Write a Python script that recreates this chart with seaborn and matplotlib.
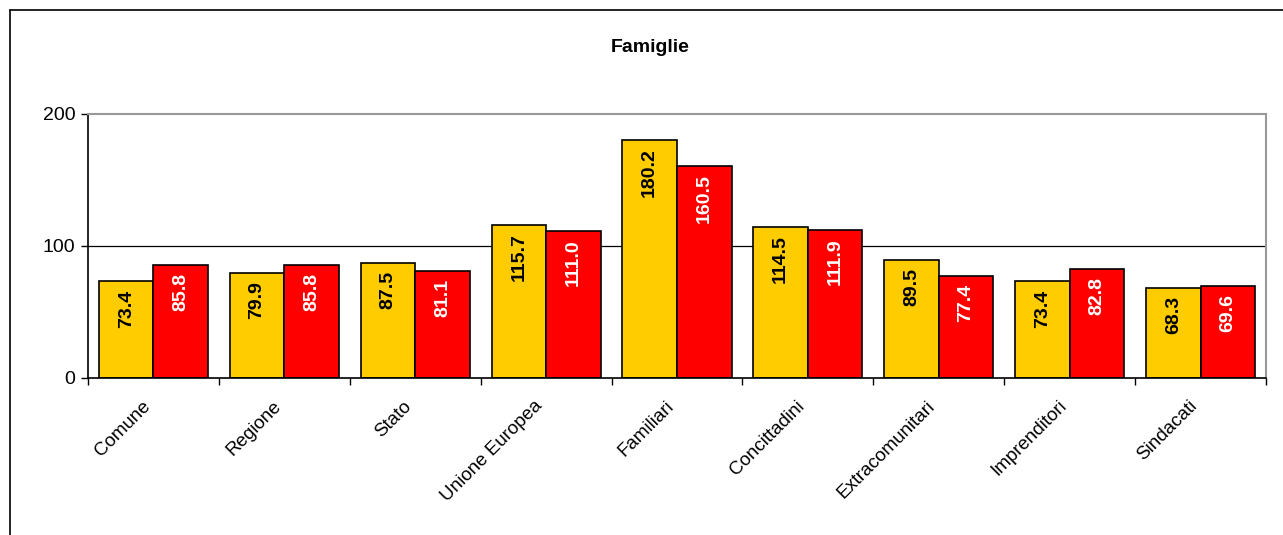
import numpy as np
import pandas as pd
import matplotlib
matplotlib.use('Agg')
import matplotlib.pyplot as plt
import matplotlib.transforms as mtransforms
from matplotlib.lines import Line2D
import seaborn as sns

sns.set_style('white')
plt.rcParams['font.family'] = ['Liberation Sans', 'DejaVu Sans']
plt.rcParams['text.color'] = 'black'
plt.rcParams['xtick.color'] = 'black'
plt.rcParams['ytick.color'] = 'black'

categories = ['Comune', 'Regione', 'Stato', 'Unione Europea', 'Familiari',
              'Concittadini', 'Extracomunitari', 'Imprenditori', 'Sindacati']
serie_a = [73.4, 79.9, 87.5, 115.7, 180.2, 114.5, 89.5, 73.4, 68.3]
serie_b = [85.8, 85.8, 81.1, 111.0, 160.5, 111.9, 77.4, 82.8, 69.6]
series = ['A', 'B']
colors = ['#FFCC00', '#FF0000']

df = pd.DataFrame({
    'categoria': categories * 2,
    'valore': serie_a + serie_b,
    'serie': [series[0]] * len(categories) + [series[1]] * len(categories),
})

W, H = 1283, 535
fig = plt.figure(figsize=(W / 100, H / 100), dpi=100)
ax = fig.add_axes([88 / W, 1 - 378 / H, (1266 - 88) / W, (378 - 114) / H])

sns.barplot(data=df, x='categoria', y='valore', hue='serie', order=categories,
            hue_order=series, palette=colors, width=0.833, gap=0,
            edgecolor='black', linewidth=1.2, saturation=1, legend=False, ax=ax)

# value labels inside the bar top, rotated
for cont, tcol in zip(ax.containers, ['black', 'white']):
    for p in cont:
        h = p.get_height()
        ax.annotate(f'{h:.1f}', (p.get_x() + p.get_width() / 2, h),
                    xytext=(0, -6), textcoords='offset points',
                    rotation=90, ha='center', va='top', color=tcol,
                    fontsize=14, fontweight='bold')

ax.axhline(100, color='black', lw=0.9, zorder=0)
ax.set_ylim(0, 200)
ax.set_xlim(-0.5, len(categories) - 0.5)
ax.set_yticks([0, 100, 200])
ax.set_yticklabels(['0', '100', '200'], fontsize=14)
ax.set_xticks(range(len(categories)))
ax.set_xticklabels(categories, rotation=45, ha='right', rotation_mode='anchor',
                   fontsize=13.5)
ax.set_xticks(np.arange(-0.5, len(categories)), minor=True)
ax.tick_params(axis='x', which='major', length=0, pad=14)
ax.tick_params(axis='x', which='minor', length=5, width=1, color='black',
               direction='out', bottom=True)
ax.tick_params(axis='y', length=5, width=1, color='black', direction='out',
               left=True, pad=4)
ax.set_xlabel('')
ax.set_ylabel('')

# Excel puts the rotated labels a little left of the group centre
shift = mtransforms.ScaledTranslation(-12 / 100, 0, fig.dpi_scale_trans)
for lab in ax.get_xticklabels():
    lab.set_transform(lab.get_transform() + shift)

for s in ['left', 'bottom']:
    ax.spines[s].set_color('black')
    ax.spines[s].set_linewidth(1.2)
for s in ['top', 'right']:
    ax.spines[s].set_color('#999999')
    ax.spines[s].set_linewidth(1.5)

fig.text(650 / W, 1 - 48 / H, 'Famiglie', ha='center', va='center',
         fontsize=14, fontweight='bold')

# outer chart frame
fig.add_artist(Line2D([10 / W, 10 / W], [0, 1 - 10 / H], color='black', lw=1.2,
                      transform=fig.transFigure))
fig.add_artist(Line2D([10 / W, 1], [1 - 10 / H, 1 - 10 / H], color='black',
                      lw=1.2, transform=fig.transFigure))

fig.savefig('out.png', dpi=100)
